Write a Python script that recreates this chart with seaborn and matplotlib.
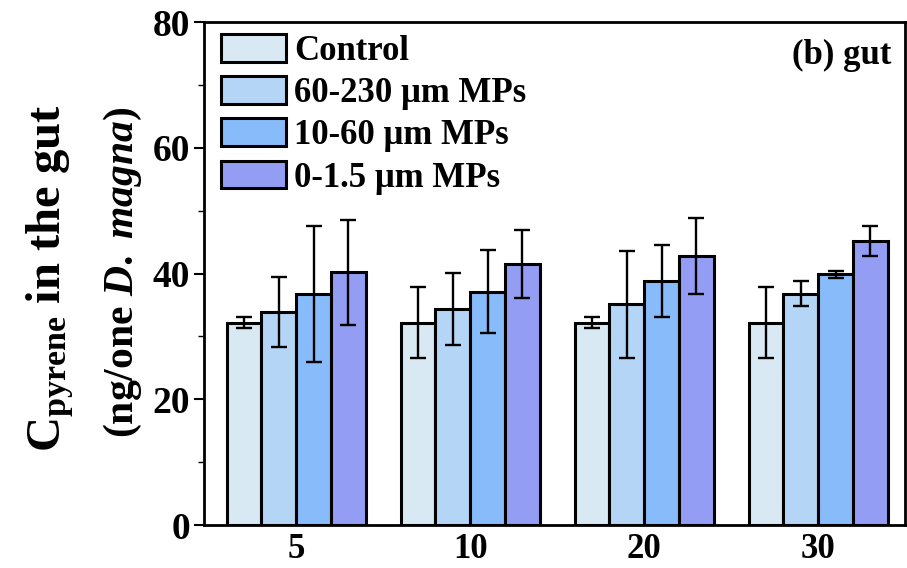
import pandas as pd
import matplotlib
matplotlib.use("Agg")
import matplotlib.pyplot as plt
import seaborn as sns

# exposure concentrations on the x axis
doses = ["5", "10", "20", "30"]
groups = ["Control", "60-230 \u03bcm MPs", "10-60 \u03bcm MPs", "0-1.5 \u03bcm MPs"]
colors = ["#D8E9F3", "#B4D5F6", "#88BBF9", "#939DF4"]

# mean values per group (same order as doses)
control_mean = [32.2, 32.2, 32.2, 32.2]
mp230_mean = [33.9, 34.4, 35.1, 36.8]
mp60_mean = [36.8, 37.1, 38.8, 39.9]
mp15_mean = [40.2, 41.6, 42.8, 45.2]

# standard deviations
control_sd = [0.9, 5.6, 0.9, 5.6]
mp230_sd = [5.6, 5.7, 8.5, 2.0]
mp60_sd = [10.8, 6.6, 5.7, 0.6]
mp15_sd = [8.3, 5.4, 6.1, 2.4]

means = [control_mean, mp230_mean, mp60_mean, mp15_mean]
sds = [control_sd, mp230_sd, mp60_sd, mp15_sd]

rows = []
for g, m, s in zip(groups, means, sds):
    for d, mv, sv in zip(doses, m, s):
        rows.append({"dose": d, "group": g, "value": mv, "sd": sv})
df = pd.DataFrame(rows)

sns.set_style("ticks")
plt.rcParams["font.family"] = ["Liberation Serif", "DejaVu Serif"]
plt.rcParams["font.weight"] = "bold"
plt.rcParams["mathtext.fontset"] = "custom"
plt.rcParams["mathtext.rm"] = "Liberation Serif:bold"
plt.rcParams["mathtext.bf"] = "Liberation Serif:bold"
plt.rcParams["mathtext.it"] = "Liberation Serif:italic:bold"
for k in ["text.color", "axes.labelcolor", "xtick.color", "ytick.color", "axes.edgecolor"]:
    plt.rcParams[k] = "black"

fig = plt.figure(figsize=(9.07, 5.68), dpi=100)
ax = fig.add_axes([0.225, 0.0757, 0.773, 0.885])

sns.barplot(data=df, x="dose", y="value", hue="group", order=doses,
            hue_order=groups, palette=colors, saturation=1, errorbar=None,
            width=0.8, edgecolor="black", linewidth=2.2, ax=ax)

# error bars on top of each bar
for cont, g in zip(ax.containers, groups):
    sub = df[df["group"] == g].set_index("dose").loc[doses]
    xs = [p.get_x() + p.get_width() / 2 for p in cont]
    ax.errorbar(xs, sub["value"], yerr=sub["sd"], fmt="none", ecolor="black",
                elinewidth=1.7, capsize=5.5, capthick=1.7, zorder=5)

ax.set_ylim(0, 80)
ax.set_xlim(-0.53, 3.5)
ax.set_yticks([0, 20, 40, 60, 80])
ax.set_yticks([10, 30, 50, 70], minor=True)
ax.set_xlabel("")
ax.set_ylabel("")
ax.tick_params(axis="y", labelsize=27, width=1.5, length=7, pad=3)
ax.tick_params(axis="y", which="minor", length=4, width=1)
ax.tick_params(axis="x", labelsize=25, length=0, pad=6)
for lab in ax.get_xticklabels() + ax.get_yticklabels():
    lab.set_fontweight("bold")
for sp in ax.spines.values():
    sp.set_linewidth(2)

leg = ax.legend(loc="upper left", frameon=False, fontsize=25,
                handlelength=1.85, handleheight=0.85, handletextpad=0.25,
                labelspacing=0.24, borderaxespad=0.3,
                bbox_to_anchor=(-0.01, 1.025))
for t in leg.get_texts():
    t.set_fontweight("bold")

ax.text(0.98, 0.935, "(b) gut", transform=ax.transAxes, ha="right",
        va="center", fontsize=25, fontweight="bold")

fig.text(0.055, 0.51, r"C$_{\mathrm{pyrene}}$ in the gut", rotation=90,
         ha="center", va="center", fontsize=35, fontweight="bold")
fig.text(0.136, 0.52, r"(ng/one $\mathit{D.}$ $\mathit{magna}$)", rotation=90,
         ha="center", va="center", fontsize=30, fontweight="bold")

fig.savefig("out.png", dpi=100)
